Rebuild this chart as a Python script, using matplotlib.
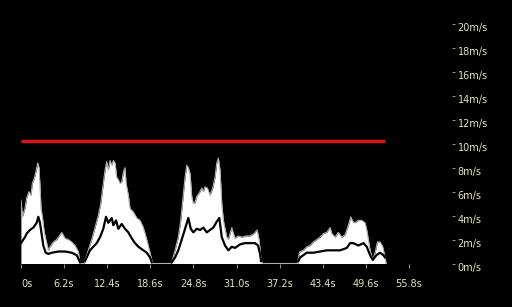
import numpy as np
import matplotlib
matplotlib.use("Agg")
import matplotlib.pyplot as plt
import matplotlib.transforms as mtransforms

nan = float("nan")

# Max speed envelope (s, m/s)
t_max = [0.00, 0.01, 0.19, 0.58, 0.82, 1.15, 1.44, 1.63, 1.91, 2.12, 2.41, 2.59, 2.73, 2.88, 3.07,
         3.35, 3.70, 3.93, 4.17, 4.65, 5.14, 5.61, 5.86, 6.33, 6.81, 7.29, 7.77, 8.24, 8.49,
         8.60, 9.10,
         9.21, 9.68, 10.17, 10.65, 11.12, 11.47, 11.84, 12.09, 12.33, 12.56, 12.81, 13.05, 13.28,
         13.53, 13.77, 14.00, 14.24, 14.49, 14.72, 14.96, 15.11, 15.44, 15.68, 16.16, 16.65,
         17.12, 17.60, 18.09, 18.56, 18.81,
         19.00, 21.50,
         21.68, 22.16, 22.63, 22.98, 23.27, 23.60, 23.84, 24.07, 24.32, 24.56, 24.79, 25.04,
         25.28, 25.65, 26.00, 26.23, 26.47, 26.81, 27.19, 27.58, 27.91, 28.16, 28.39, 28.63,
         28.88, 29.11, 29.35, 29.60, 29.83, 30.07, 30.32, 30.55, 30.79, 31.22, 31.80, 32.37,
         32.95, 33.53, 33.96, 34.24, 34.53,
         34.70, 39.80,
         40.00, 40.14, 40.62, 41.11, 41.58, 42.06, 42.55, 43.02, 43.50, 43.99, 44.46, 44.71,
         45.18, 45.65, 46.14, 46.62, 47.09, 47.44, 47.73, 48.06, 48.53, 49.02, 49.50, 49.74,
         49.97, 50.22, 50.60, 50.94, 51.27, 51.65, 52.04, 52.37, 52.52]
v_max = [0.0, 5.3, 3.9, 4.6, 5.5, 6.0, 5.7, 6.7, 7.1, 7.6, 8.4, 8.0, 6.5, 4.6, 3.9,
         2.6, 1.7, 1.1, 1.4, 1.8, 2.0, 2.4, 2.6, 2.1, 2.0, 1.8, 1.5, 1.0, 0.1,
         0.0, 0.0,
         0.3, 1.1, 2.0, 3.0, 4.0, 5.0, 6.7, 7.8, 8.5, 7.8, 8.6, 8.2, 8.6,
         8.4, 7.2, 7.0, 6.7, 6.8, 7.6, 8.0, 6.7, 5.7, 4.6, 4.3, 3.8,
         3.6, 3.0, 2.0, 0.9, 0.3,
         0.0, 0.0,
         0.1, 1.1, 2.2, 3.6, 5.3, 7.2, 8.2, 8.0, 7.5, 5.6, 5.0, 5.1,
         5.6, 5.9, 6.3, 6.0, 6.4, 6.3, 5.7, 6.3, 7.2, 8.4, 8.8, 7.8,
         5.0, 3.6, 2.9, 2.2, 2.0, 2.5, 3.0, 2.5, 2.1, 2.3, 2.2, 2.3,
         2.3, 2.5, 2.8, 2.0, 0.4,
         0.0, 0.0,
         0.8, 1.0, 1.1, 1.4, 1.5, 1.8, 2.0, 2.2, 2.5, 2.6, 3.0, 2.5,
         2.2, 2.6, 2.2, 2.4, 3.2, 3.9, 3.5, 3.4, 3.6, 3.6, 3.4, 2.8,
         2.0, 1.1, 0.3, 0.9, 1.8, 1.8, 1.4, 0.5, 0.0]

# Mean speed (s, m/s); nan = no data between runs
t_mean = [0.00, 0.33, 0.58, 0.82, 1.29, 1.77, 2.26, 2.49, 2.73, 2.98, 3.21, 3.55, 3.93, 4.42,
          5.37, 6.33, 7.29, 8.01, 8.49,
          8.80,
          9.20, 9.93, 10.40, 10.89, 11.37, 11.84, 12.23, 12.56, 13.05, 13.28, 13.67, 14.00,
          14.49, 14.96, 15.44, 15.93, 16.40, 16.88, 17.60, 18.09, 18.56, 18.81,
          20.00,
          21.68, 22.16, 22.63, 23.12, 23.60, 24.07, 24.42, 24.79, 25.28, 25.76, 26.23, 26.72,
          27.19, 27.67, 28.16, 28.53, 28.88, 29.35, 29.83, 30.32, 30.79, 31.51, 32.23, 32.95,
          33.67, 34.10, 34.39, 34.53,
          37.00,
          39.90, 40.14, 41.11, 42.06, 43.02, 43.99, 44.94, 45.90, 46.86, 47.34, 47.81, 48.53,
          49.28, 49.74, 50.22, 50.60, 51.13, 51.65, 52.13, 52.37]
v_mean = [1.7, 2.0, 2.2, 2.5, 2.8, 3.0, 3.4, 3.9, 3.4, 2.4, 1.5, 0.9, 0.8, 0.9,
          1.0, 1.0, 0.9, 0.7, 0.1,
          nan,
          0.2, 1.1, 1.4, 1.7, 2.2, 2.9, 3.9, 3.4, 3.8, 3.2, 3.6, 2.9,
          3.3, 2.9, 2.6, 2.1, 1.7, 1.4, 1.1, 0.9, 0.5, 0.1,
          nan,
          0.1, 0.5, 1.1, 2.0, 2.9, 3.8, 2.9, 2.6, 2.9, 2.8, 3.0, 2.6,
          2.8, 3.0, 3.5, 3.8, 2.2, 1.5, 1.1, 1.4, 1.3, 1.6, 1.7, 1.7,
          1.7, 1.5, 0.8, 0.2,
          nan,
          0.2, 0.5, 0.9, 0.9, 1.0, 1.1, 1.1, 1.1, 1.3, 1.7, 1.7, 1.5,
          1.7, 1.4, 0.7, 0.3, 0.7, 0.9, 0.7, 0.5]

limit_speed = 10.2
x_ticks = [0.0, 6.2, 12.4, 18.6, 24.8, 31.0, 37.2, 43.4, 49.6, 55.8]
x_labels = ["0s", "6.2s", "12.4s", "18.6s", "24.8s", "31.0s", "37.2s", "43.4s", "49.6s", "55.8s"]
y_ticks = [0, 2, 4, 6, 8, 10, 12, 14, 16, 18, 20]
y_labels = [f"{v}m/s" for v in y_ticks]

fig = plt.figure(figsize=(5.12, 3.07), dpi=100, facecolor="black")
ax = fig.add_axes([21 / 512, 43.5 / 307, (452 - 21) / 512, (263.5 - 24) / 307])
ax.set_facecolor("black")

ax.fill_between(t_max, 0, v_max, color="white", lw=0, zorder=2)
ax.plot(t_max, v_max, color="#b0b0b0", lw=0.8, zorder=3)
ax.plot(t_mean, v_mean, color="black", lw=1.6, zorder=4)
ax.hlines(limit_speed, t_max[0], t_max[-2], color="#dd1414", lw=2.4, zorder=5)

ax.set_xlim(0, 62.0)
ax.set_ylim(0, 20)
for s in ax.spines.values():
    s.set_visible(False)

lbl_color = "#e4e4b4"
font = "Liberation Sans Narrow"
ax.set_xticks(x_ticks)
ax.set_xticklabels(x_labels, color=lbl_color, fontsize=7, family=font)
ax.tick_params(axis="x", colors="#909090", labelcolor=lbl_color, length=3, width=0.8,
               direction="out", pad=8)
ax.get_xticklabels()[0].set_ha("left")

ax.yaxis.tick_right()
ax.set_yticks(y_ticks)
ax.set_yticklabels(y_labels, color=lbl_color, fontsize=7, family=font)
ax.tick_params(axis="y", colors="#909090", labelcolor=lbl_color, length=2.5, width=0.8,
               direction="out", pad=1.5)
offset = mtransforms.ScaledTranslation(0, -3.5 / 100, fig.dpi_scale_trans)
for lab in ax.get_yticklabels():
    lab.set_transform(lab.get_transform() + offset)

fig.savefig("out.png", dpi=100, facecolor="black")
